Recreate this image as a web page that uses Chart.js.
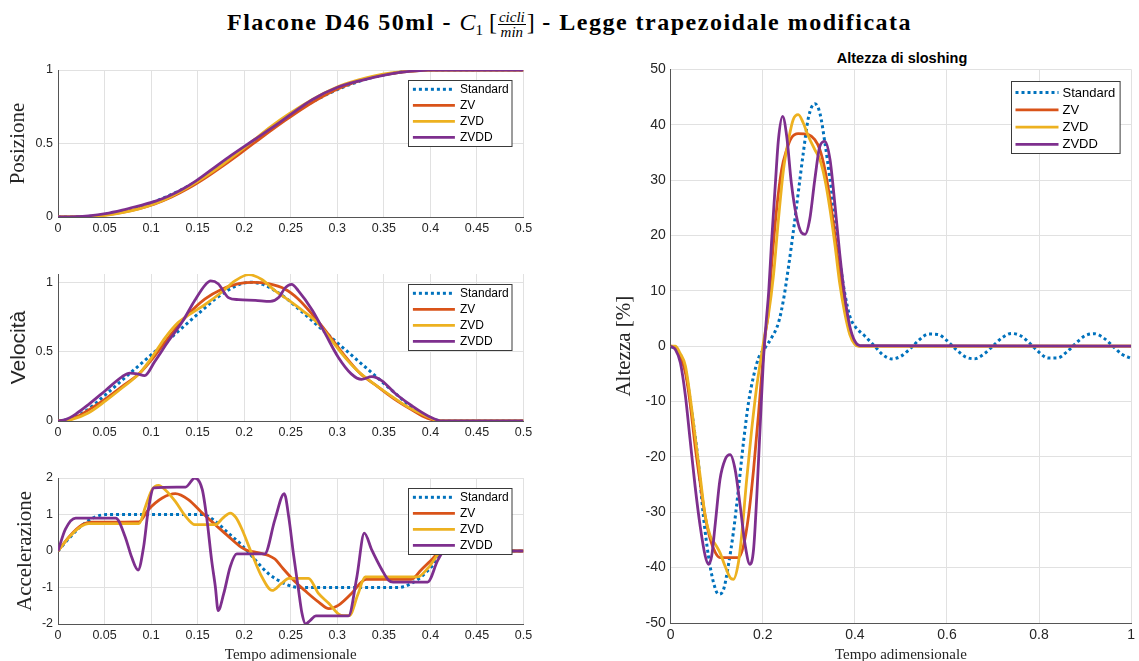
<!DOCTYPE html>
<html>
<head>
<meta charset="utf-8">
<script src="https://cdn.jsdelivr.net/npm/chart.js@4.4.0/dist/chart.umd.min.js"></script>
<style>
  html, body { margin: 0; padding: 0; background: #fff; width: 1139px; height: 661px; overflow: hidden; }
  canvas { position: absolute; }
  #title {
    position: absolute; left: 0; top: 7px; width: 1139px; text-align: center;
    font-family: "Liberation Serif", serif; font-size: 24px; line-height: 30px; color: #000; white-space: nowrap;
  }
  #title .b { font-weight: bold; letter-spacing: 1.5px; }
  #title .m { font-style: italic; }
  #title sub { font-size: 15px; font-style: normal; vertical-align: -5px; line-height: 0; }
  #title .br { font-style: normal; }
  #title .frac {
    display: inline-block; vertical-align: middle; text-align: center;
    font-size: 15px; font-style: italic; line-height: 14px; margin: 0 1px;
  }
  #title .frac span { display: block; padding: 0 1px; }
  #title .frac .num { border-bottom: 1px solid #000; }
  #subtitle {
    position: absolute; left: 752px; top: 49px; width: 300px; text-align: center;
    font-family: "Liberation Sans", sans-serif; font-weight: bold; font-size: 14.5px; line-height: 18px; color: #000;
  }
</style>
</head>
<body>
<div id="title"><span class="b">Flacone D46 50ml - </span><span class="m">C<sub>1</sub></span> <span class="br">[</span><span class="frac"><span class="num">cicli</span><span>min</span></span><span class="br">]</span><span class="b"> - Legge trapezoidale modificata</span></div>
<div id="subtitle">Altezza di sloshing</div>
<canvas id="posChart" width="545" height="200" style="left:0;top:40px"></canvas>
<canvas id="velChart" width="545" height="200" style="left:0;top:245px"></canvas>
<canvas id="accChart" width="545" height="214" style="left:0;top:450px"></canvas>
<canvas id="slChart" width="559" height="624" style="left:580px;top:40px"></canvas>
<script>
// series labels
const seriesNames = ['Standard', 'ZV', 'ZVD', 'ZVDD'];

// tick values
const xTicksLeft = [0, 0.05, 0.1, 0.15, 0.2, 0.25, 0.3, 0.35, 0.4, 0.45, 0.5];
const xTicksRight = [0, 0.2, 0.4, 0.6, 0.8, 1];
const yTicksPos = [0, 0.5, 1];
const yTicksVel = [0, 0.5, 1];
const yTicksAcc = [-2, -1, 0, 1, 2];
const yTicksSl = [-50, -40, -30, -20, -10, 0, 10, 20, 30, 40, 50];

// posizione
const tPosStd = [0, 0.026, 0.052, 0.078, 0.104, 0.13, 0.156, 0.18, 0.2075, 0.235, 0.259, 0.285, 0.311, 0.337, 0.363, 0.389, 0.415, 0.5];
const posStd = [0, 0.002, 0.018, 0.052, 0.105, 0.178, 0.269, 0.37, 0.5, 0.63, 0.731, 0.822, 0.895, 0.948, 0.982, 0.998, 1, 1];
const tPosZV = [0, 0.02, 0.033, 0.051, 0.069, 0.087, 0.104, 0.122, 0.14, 0.158, 0.176, 0.194, 0.21, 0.226, 0.244, 0.262, 0.28, 0.298, 0.316, 0.333, 0.351, 0.369, 0.387, 0.4, 0.414, 0.5];
const posZV = [0, 0.001, 0.004, 0.015, 0.032, 0.057, 0.089, 0.136, 0.195, 0.265, 0.343, 0.425, 0.5, 0.575, 0.657, 0.735, 0.805, 0.864, 0.911, 0.943, 0.968, 0.986, 0.996, 0.999, 1, 1];
const tPosZVD = [0, 0.033, 0.051, 0.069, 0.087, 0.101, 0.115, 0.129, 0.144, 0.158, 0.176, 0.19, 0.205, 0.219, 0.233, 0.248, 0.262, 0.28, 0.294, 0.308, 0.322, 0.34, 0.358, 0.376, 0.394, 0.41, 0.5];
const posZVD = [0, 0.003, 0.012, 0.029, 0.055, 0.083, 0.119, 0.164, 0.219, 0.275, 0.353, 0.42, 0.496, 0.568, 0.635, 0.701, 0.758, 0.824, 0.868, 0.904, 0.932, 0.96, 0.98, 0.992, 0.998, 1, 1];
const tPosZVDD = [0, 0.019, 0.033, 0.051, 0.069, 0.085, 0.104, 0.119, 0.133, 0.147, 0.163, 0.183, 0.21, 0.237, 0.25, 0.273, 0.301, 0.326, 0.337, 0.362, 0.38, 0.398, 0.412, 0.5];
const posZVDD = [0, 0.002, 0.008, 0.023, 0.047, 0.073, 0.106, 0.143, 0.187, 0.241, 0.314, 0.406, 0.522, 0.638, 0.698, 0.798, 0.884, 0.93, 0.947, 0.979, 0.992, 0.999, 1, 1];

// velocita
const tVelStd = [0, 0.013, 0.026, 0.039, 0.052, 0.078, 0.104, 0.13, 0.156, 0.169, 0.182, 0.195, 0.2075, 0.22, 0.233, 0.246, 0.259, 0.285, 0.311, 0.337, 0.363, 0.376, 0.389, 0.402, 0.415, 0.5];
const velStd = [0, 0.015, 0.057, 0.12, 0.195, 0.348, 0.5, 0.652, 0.805, 0.88, 0.94, 0.985, 1, 0.985, 0.94, 0.88, 0.805, 0.652, 0.5, 0.348, 0.195, 0.12, 0.057, 0.015, 0, 0];
const tVelZV = [0, 0.01, 0.02, 0.033, 0.051, 0.069, 0.087, 0.104, 0.122, 0.14, 0.158, 0.176, 0.194, 0.21, 0.226, 0.244, 0.258, 0.273, 0.291, 0.308, 0.325, 0.343, 0.361, 0.38, 0.393, 0.404, 0.414, 0.5];
const velZV = [0, 0.005, 0.03, 0.08, 0.16, 0.25, 0.34, 0.47, 0.63, 0.77, 0.88, 0.95, 0.99, 1, 0.99, 0.95, 0.88, 0.77, 0.62, 0.47, 0.34, 0.25, 0.16, 0.08, 0.03, 0.006, 0, 0];
const tVelZVD = [0, 0.015, 0.033, 0.051, 0.069, 0.087, 0.101, 0.115, 0.129, 0.144, 0.158, 0.176, 0.19, 0.205, 0.219, 0.233, 0.248, 0.262, 0.28, 0.294, 0.308, 0.322, 0.34, 0.358, 0.376, 0.394, 0.41, 0.5];
const velZVD = [0, 0.012, 0.06, 0.145, 0.24, 0.34, 0.46, 0.6, 0.71, 0.78, 0.84, 0.93, 1.01, 1.055, 1.02, 0.94, 0.87, 0.8, 0.7, 0.58, 0.46, 0.36, 0.265, 0.18, 0.1, 0.04, 0, 0];
const tVelZVDD = [0, 0.008, 0.019, 0.033, 0.051, 0.069, 0.077, 0.085, 0.093, 0.104, 0.119, 0.133, 0.147, 0.158, 0.164, 0.172, 0.183, 0.194, 0.212, 0.228, 0.237, 0.244, 0.251, 0.258, 0.273, 0.287, 0.301, 0.315, 0.326, 0.337, 0.348, 0.362, 0.38, 0.398, 0.413, 0.5];
const velZVDD = [0, 0.01, 0.05, 0.12, 0.22, 0.32, 0.345, 0.34, 0.327, 0.43, 0.58, 0.71, 0.87, 0.98, 1.01, 0.99, 0.89, 0.875, 0.87, 0.862, 0.89, 0.96, 0.985, 0.94, 0.8, 0.63, 0.46, 0.34, 0.3, 0.32, 0.29, 0.2, 0.11, 0.035, 0, 0];

// accelerazione
const tAccStd = [0, 0.013, 0.026, 0.039, 0.052, 0.156, 0.169, 0.183, 0.197, 0.212, 0.226, 0.24, 0.253, 0.26, 0.365, 0.377, 0.39, 0.403, 0.415, 0.5];
const accStd = [0, 0.38, 0.71, 0.92, 1, 1, 0.81, 0.49, 0.17, -0.25, -0.62, -0.85, -0.98, -1, -1, -0.92, -0.71, -0.38, 0, 0];
const tAccZV = [0, 0.013, 0.026, 0.036, 0.087, 0.097, 0.112, 0.126, 0.14, 0.155, 0.169, 0.183, 0.197, 0.205, 0.212, 0.22, 0.226, 0.233, 0.24, 0.255, 0.265, 0.28, 0.291, 0.301, 0.315, 0.326, 0.331, 0.379, 0.39, 0.401, 0.412, 0.5];
const accZV = [0, 0.42, 0.72, 0.79, 0.8, 1.13, 1.45, 1.57, 1.41, 1.04, 0.72, 0.4, 0.1, 0, -0.03, -0.08, -0.12, -0.22, -0.43, -0.85, -1.08, -1.4, -1.58, -1.49, -1.17, -0.85, -0.78, -0.78, -0.52, -0.25, 0, 0];
const tAccZVD = [0, 0.012, 0.024, 0.033, 0.087, 0.094, 0.101, 0.108, 0.115, 0.126, 0.137, 0.147, 0.169, 0.177, 0.185, 0.191, 0.197, 0.208, 0.219, 0.23, 0.24, 0.248, 0.269, 0.28, 0.291, 0.301, 0.307, 0.313, 0.322, 0.33, 0.386, 0.398, 0.413, 0.5];
const accZVD = [0, 0.38, 0.66, 0.75, 0.75, 1.22, 1.68, 1.8, 1.68, 1.36, 0.95, 0.72, 0.72, 0.9, 1.04, 0.92, 0.63, -0.06, -0.71, -1.08, -0.89, -0.75, -0.75, -1.17, -1.44, -1.72, -1.77, -1.77, -1.2, -0.71, -0.71, -0.45, 0, 0];
const tAccZVDD = [0, 0.008, 0.019, 0.062, 0.072, 0.079, 0.086, 0.092, 0.097, 0.103, 0.137, 0.147, 0.155, 0.16, 0.165, 0.169, 0.172, 0.178, 0.185, 0.192, 0.222, 0.233, 0.243, 0.248, 0.253, 0.258, 0.262, 0.266, 0.271, 0.277, 0.312, 0.321, 0.329, 0.337, 0.348, 0.355, 0.36, 0.397, 0.408, 0.415, 0.5];
const accZVDD = [0, 0.6, 0.9, 0.9, 0.4, -0.16, -0.52, 0.12, 1.13, 1.73, 1.75, 2, 1.68, 0.86, -0.25, -0.98, -1.63, -1.17, -0.43, -0.08, -0.08, 0.86, 1.57, 0.9, -0.1, -1, -1.7, -2, -1.9, -1.78, -1.78, -0.71, 0.49, 0.03, -0.52, -0.8, -0.85, -0.85, -0.25, 0, 0];

// altezza di sloshing
const tSlStd = [0, 0.015, 0.0315, 0.046, 0.06, 0.071, 0.082, 0.093, 0.104, 0.115, 0.125, 0.136, 0.147, 0.158, 0.169, 0.18, 0.191, 0.205, 0.219, 0.234, 0.245, 0.256, 0.266, 0.277, 0.288, 0.299, 0.313, 0.324, 0.335, 0.346, 0.357, 0.367, 0.378, 0.389, 0.4, 0.422, 0.443, 0.46, 0.48, 0.5, 0.52, 0.54, 0.56, 0.58, 0.6, 0.62, 0.64, 0.66, 0.68, 0.7, 0.72, 0.74, 0.76, 0.78, 0.8, 0.82, 0.84, 0.86, 0.88, 0.9, 0.92, 0.94, 0.96, 0.98, 1];
const slStd = [0, -1, -4.2, -12, -21, -30.7, -37.9, -42.7, -44.8, -43.9, -39.7, -33.7, -25.9, -17.4, -10.2, -5.4, -2.1, -0.3, 1.5, 4.2, 8.4, 14.4, 20.5, 27.7, 34.9, 41.2, 43.8, 42.1, 36.7, 30.1, 22.9, 15.6, 9.6, 5.4, 3.6, 1.8, 0, -1.5, -2.3, -1.83, -0.45, 1.15, 2.18, 2.12, 1.01, -0.61, -1.93, -2.28, -1.44, 0.04, 1.53, 2.29, 1.88, 0.51, -1.1, -2.16, -2.14, -1.08, 0.53, 1.89, 2.25, 1.5, 0.02, -1.45, -2.2];
const tSlZV = [0, 0.01, 0.02, 0.032, 0.042, 0.053, 0.064, 0.075, 0.086, 0.097, 0.107, 0.147, 0.158, 0.169, 0.18, 0.191, 0.198, 0.205, 0.212, 0.219, 0.23, 0.241, 0.252, 0.262, 0.277, 0.299, 0.313, 0.324, 0.335, 0.346, 0.357, 0.367, 0.378, 0.389, 0.4, 0.411, 1];
const slZV = [0, -0.3, -1.8, -4.8, -10.2, -18, -24.7, -30.7, -34.9, -37.3, -38.2, -38.2, -36.1, -30.7, -22.3, -12, -4.8, 1.8, 6, 14.4, 24.7, 31.9, 35.5, 37.6, 38.4, 38.2, 37.3, 35.5, 31.9, 26.5, 19.9, 13.2, 7.2, 3, 0.6, 0, 0];
const tSlZVD = [0, 0.01, 0.02, 0.032, 0.042, 0.053, 0.064, 0.075, 0.086, 0.097, 0.107, 0.118, 0.129, 0.136, 0.147, 0.154, 0.165, 0.176, 0.187, 0.198, 0.205, 0.212, 0.223, 0.234, 0.245, 0.256, 0.266, 0.277, 0.288, 0.299, 0.313, 0.324, 0.335, 0.346, 0.357, 0.367, 0.378, 0.389, 0.4, 0.407, 1];
const slZVD = [0, 0, -1.2, -3.6, -9, -16.2, -23.5, -30.7, -34.3, -35.8, -37.3, -39.7, -41.8, -42.1, -39.1, -34.3, -24.1, -15, -7.2, -1.2, 2.4, 5.5, 12.6, 22.9, 31.9, 37.3, 40.9, 41.8, 40.3, 37.9, 35.5, 33.7, 30.1, 24.7, 18.1, 11.4, 6, 2.1, 0.3, 0, 0];
const tSlZVDD = [0, 0.01, 0.021, 0.032, 0.042, 0.053, 0.064, 0.075, 0.082, 0.089, 0.097, 0.107, 0.118, 0.129, 0.14, 0.151, 0.162, 0.172, 0.18, 0.187, 0.194, 0.201, 0.207, 0.213, 0.219, 0.227, 0.234, 0.243, 0.252, 0.262, 0.273, 0.284, 0.292, 0.302, 0.313, 0.324, 0.335, 0.346, 0.357, 0.367, 0.378, 0.389, 0.4, 0.411, 1];
const slZVDD = [0, -0.6, -3, -9, -16.8, -25.3, -32.5, -37.9, -39.4, -37.9, -31.9, -24.1, -20.5, -19.6, -22.3, -28.9, -36.1, -39.4, -36.7, -27.1, -15, -3, 4, 10, 18.7, 28.9, 37.3, 41.5, 37.9, 29.5, 23.5, 20.5, 20.2, 22.9, 30.1, 36.1, 37, 33.7, 25.3, 16.8, 9, 3.6, 0.9, 0.1, 0];

const colors = ['#0072BD', '#D95319', '#EDB120', '#7E2F8E'];
const ink = '#262626';
const gridColor = '#e1e1e1';
const axisColor = '#555555';
const sans = '"Liberation Sans", Arial, sans-serif';
const serif = '"Liberation Serif", serif';

// legend drawn inside the plot area, MATLAB style
const boxLegend = {
  id: 'boxLegend',
  afterDatasetsDraw(chart, args, o) {
    const { ctx, chartArea: a } = chart;
    const x = Math.round(a.right - o.right - o.width) + 0.5;
    const y = Math.round(a.top + o.top) + 0.5;
    ctx.save();
    ctx.fillStyle = '#ffffff';
    ctx.fillRect(x, y, o.width, o.height);
    ctx.strokeStyle = '#3a3a3a';
    ctx.lineWidth = 1;
    ctx.strokeRect(x, y, o.width, o.height);
    ctx.font = o.size + 'px ' + sans;
    ctx.textBaseline = 'middle';
    chart.data.datasets.forEach((d, i) => {
      const ry = y + o.first + i * o.gap;
      ctx.beginPath();
      ctx.setLineDash(d.borderDash || []);
      ctx.strokeStyle = d.borderColor;
      ctx.lineWidth = d.borderWidth;
      ctx.moveTo(x + o.lineX, ry);
      ctx.lineTo(x + o.lineX + o.lineLen, ry);
      ctx.stroke();
      ctx.setLineDash([]);
      ctx.fillStyle = '#000';
      ctx.fillText(d.label, x + o.textX, ry + 0.5);
    });
    ctx.restore();
  }
};

function pts(t, v) {
  return t.map((x, i) => ({ x: x, y: v[i] }));
}

function series(pairs) {
  return pairs.map((p, i) => ({
    label: seriesNames[i],
    data: pts(p[0], p[1]),
    borderColor: colors[i],
    borderWidth: i === 0 ? 3 : 2.8,
    borderDash: i === 0 ? [3, 3] : [],
    pointRadius: 0,
    pointHitRadius: 0,
    fill: false,
    cubicInterpolationMode: 'monotone',
    order: 3 - i
  }));
}

function makeChart(id, pairs, o) {
  return new Chart(document.getElementById(id), {
    type: 'line',
    data: { datasets: series(pairs) },
    plugins: [boxLegend],
    options: {
      responsive: false,
      animation: false,
      events: [],
      layout: { padding: o.padding },
      plugins: {
        legend: { display: false },
        tooltip: { enabled: false },
        boxLegend: o.legend
      },
      scales: {
        x: {
          type: 'linear',
          min: o.xMin, max: o.xMax,
          afterBuildTicks: s => { s.ticks = o.xTicks.map(v => ({ value: v })); },
          afterFit: s => { s.height = o.xh; },
          ticks: { callback: v => String(v), color: ink, font: { family: sans, size: o.tickSize }, padding: 4, maxRotation: 0, autoSkip: false },
          grid: { color: gridColor, drawTicks: false },
          border: { color: axisColor },
          title: o.xTitle ? {
            display: true, text: o.xTitle, color: ink,
            font: { family: serif, size: 15 },
            padding: { top: 0, bottom: 0 }
          } : { display: false }
        },
        y: {
          min: o.yMin, max: o.yMax,
          afterBuildTicks: s => { s.ticks = o.yTicks.map(v => ({ value: v })); },
          afterFit: s => { s.width = o.yw; },
          ticks: { callback: v => String(v), color: ink, font: { family: sans, size: o.tickSize }, padding: 5 },
          grid: { color: gridColor, drawTicks: false },
          border: { color: axisColor },
          title: {
            display: true, text: o.yTitle, color: ink,
            font: { family: o.yTitleFamily, size: 21 },
            padding: { top: o.yTitlePad, bottom: 0 }
          }
        }
      }
    }
  });
}

const leftLegend = { right: 11.8, top: 9.8, width: 103.5, height: 66, first: 8.8, gap: 16, lineX: 4.4, lineLen: 42, textX: 51.5, size: 12 };

makeChart('posChart',
  [[tPosStd, posStd], [tPosZV, posZV], [tPosZVD, posZVD], [tPosZVDD, posZVDD]],
  { padding: { left: 0, top: 30, right: 21.5, bottom: 0 }, xh: 23, yw: 58,
    xMin: 0, xMax: 0.5, xTicks: xTicksLeft, yMin: 0, yMax: 1, yTicks: yTicksPos,
    tickSize: 12.5, yTitle: 'Posizione', yTitleFamily: serif, yTitlePad: 6, legend: leftLegend });

makeChart('velChart',
  [[tVelStd, velStd], [tVelZV, velZV], [tVelZVD, velZVD], [tVelZVDD, velZVDD]],
  { padding: { left: 0, top: 29, right: 21.5, bottom: 0 }, xh: 24, yw: 58,
    xMin: 0, xMax: 0.5, xTicks: xTicksLeft, yMin: 0, yMax: 1.06, yTicks: yTicksVel,
    tickSize: 12.5, yTitle: 'Velocità', yTitleFamily: sans, yTitlePad: 7, legend: leftLegend });

makeChart('accChart',
  [[tAccStd, accStd], [tAccZV, accZV], [tAccZVD, accZVD], [tAccZVDD, accZVDD]],
  { padding: { left: 0, top: 28, right: 21.5, bottom: 0 }, xh: 40, yw: 58,
    xMin: 0, xMax: 0.5, xTicks: xTicksLeft, yMin: -2, yMax: 2, yTicks: yTicksAcc,
    tickSize: 12.5, yTitle: 'Accelerazione', yTitleFamily: serif, yTitlePad: 13, xTitle: 'Tempo adimensionale', legend: leftLegend });

makeChart('slChart',
  [[tSlStd, slStd], [tSlZV, slZV], [tSlZVD, slZVD], [tSlZVDD, slZVDD]],
  { padding: { left: 0, top: 29.3, right: 6, bottom: 0 }, xh: 41, yw: 90.7,
    xMin: 0, xMax: 1, xTicks: xTicksRight, yMin: -50, yMax: 50, yTicks: yTicksSl,
    tickSize: 14, yTitle: 'Altezza [%]', yTitleFamily: serif, yTitlePad: 32, xTitle: 'Tempo adimensionale',
    legend: { right: 11.4, top: 11.4, width: 108.6, height: 72, first: 11, gap: 17.3, lineX: 4, lineLen: 43, textX: 51, size: 13 } });
</script>
</body>
</html>
